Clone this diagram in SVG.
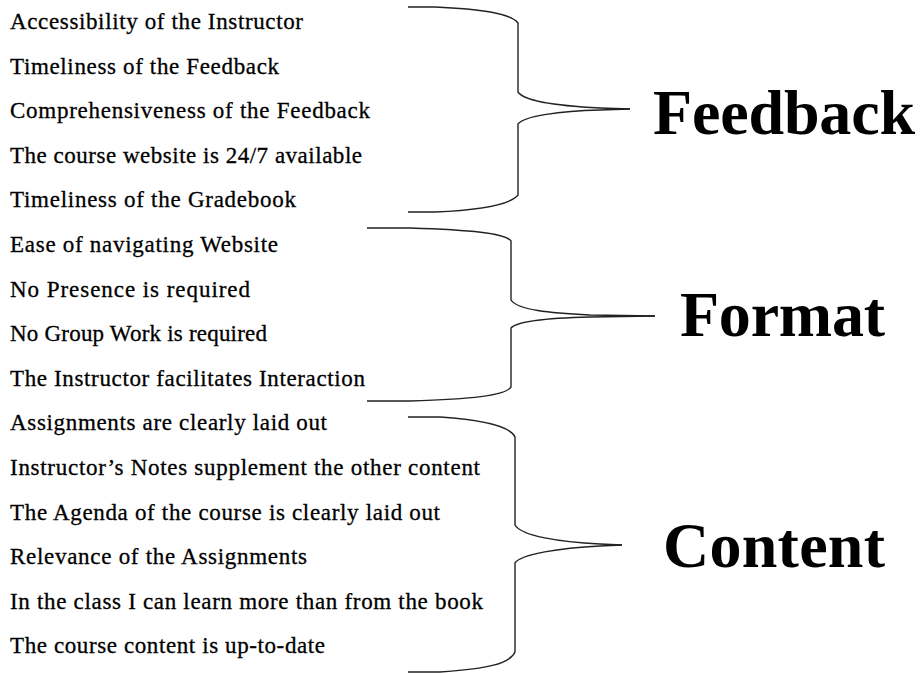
<svg xmlns="http://www.w3.org/2000/svg" width="924" height="673" viewBox="0 0 924 673">
<style>
.item{font-family:"Liberation Serif","Times New Roman",serif;font-size:23px;fill:#000;stroke:#000;stroke-width:0.3}
.cat{font-family:"Liberation Serif","Times New Roman",serif;font-size:64px;font-weight:bold;fill:#000}
.brace{fill:none;stroke:#222;stroke-width:1.4}
</style>
<rect width="924" height="673" fill="#fff"/>
<g id="items">
<text class="item" x="10" y="29" textLength="293" lengthAdjust="spacing">Accessibility of the Instructor</text>
<text class="item" x="10" y="73.6" textLength="269" lengthAdjust="spacing">Timeliness of the Feedback</text>
<text class="item" x="10" y="118.2" textLength="360" lengthAdjust="spacing">Comprehensiveness of the Feedback</text>
<text class="item" x="10" y="162.8" textLength="352" lengthAdjust="spacing">The course website is 24/7 available</text>
<text class="item" x="10" y="207.4" textLength="286" lengthAdjust="spacing">Timeliness of the Gradebook</text>
<text class="item" x="10" y="252" textLength="268" lengthAdjust="spacing">Ease of navigating Website</text>
<text class="item" x="10" y="296.6" textLength="240" lengthAdjust="spacing">No Presence is required</text>
<text class="item" x="10" y="341.2" textLength="257" lengthAdjust="spacing">No Group Work is required</text>
<text class="item" x="10" y="385.8" textLength="355" lengthAdjust="spacing">The Instructor facilitates Interaction</text>
<text class="item" x="10" y="430.4" textLength="317" lengthAdjust="spacing">Assignments are clearly laid out</text>
<text class="item" x="10" y="475" textLength="470" lengthAdjust="spacing">Instructor’s Notes supplement the other content</text>
<text class="item" x="10" y="519.6" textLength="430" lengthAdjust="spacing">The Agenda of the course is clearly laid out</text>
<text class="item" x="10" y="564.2" textLength="297" lengthAdjust="spacing">Relevance of the Assignments</text>
<text class="item" x="10" y="608.8" textLength="473" lengthAdjust="spacing">In the class I can learn more than from the book</text>
<text class="item" x="10" y="653.4" textLength="315" lengthAdjust="spacing">The course content is up-to-date</text>
</g>
<g id="connectors">
<g id="brace-feedback">
<path class="brace" d="M408,7 L435,7 C480,9 510,13 518,23 L518,92 C524,101 560,106 600,108 L630,109"/>
<path class="brace" d="M408,212 L435,212 C480,210 510,205 518,195 L518,124 C524,116 560,111 600,110 L630,109"/>
</g>
<g id="brace-format">
<path class="brace" d="M367,228 L410,228 C470,230 505,233 511,241 L511,300 C517,310 550,313 590,315 L655,316"/>
<path class="brace" d="M367,401 L410,401 C470,399 505,396 511,387 L511,328 C517,321 550,318 590,317 L655,316"/>
</g>
<g id="brace-content">
<path class="brace" d="M408,417 L440,417 C485,420 510,426 515,437 L515,525 C521,536 560,542 600,544 L622,545"/>
<path class="brace" d="M408,672 L440,672 C485,669 510,664 515,652 L515,563 C521,554 560,548 600,546 L622,545"/>
</g>
</g>
<g id="node-feedback"><text class="cat" x="653" y="134" textLength="262" lengthAdjust="spacing">Feedback</text></g>
<g id="node-format"><text class="cat" x="680" y="336" textLength="205" lengthAdjust="spacing">Format</text></g>
<g id="node-content"><text class="cat" x="663" y="567" textLength="222" lengthAdjust="spacing">Content</text></g>
</svg>
